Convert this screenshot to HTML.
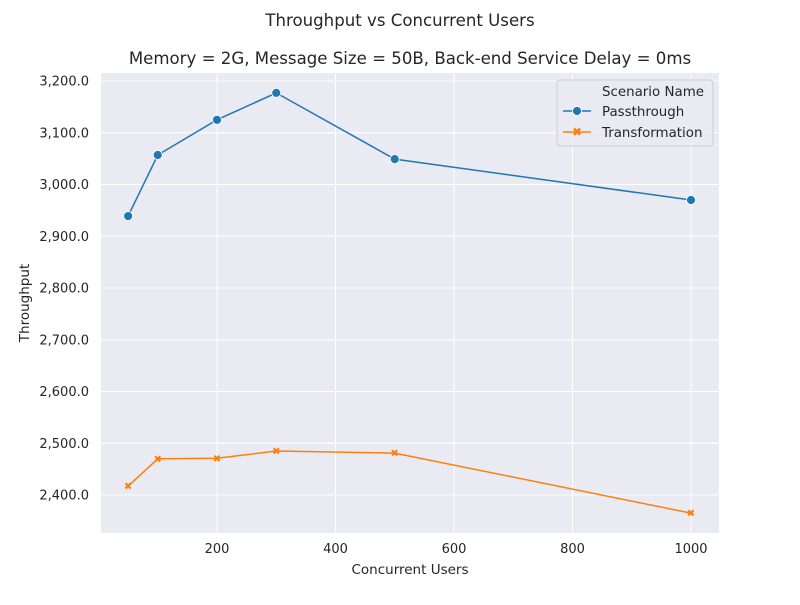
<!DOCTYPE html>
<html><head><meta charset="utf-8"><style>
body{margin:0;background:#fff;font-family:"Liberation Sans","DejaVu Sans",sans-serif;}
svg text{font-family:"DejaVu Sans","Liberation Sans",sans-serif;}
</style></head><body>
<svg id="chart" width="800" height="600" xmlns="http://www.w3.org/2000/svg">
<rect width="800" height="600" fill="#fff"/>
<text x="400" y="26" text-anchor="middle" font-size="16.6" fill="#262626">Throughput vs Concurrent Users</text>
<text x="410" y="64" text-anchor="middle" font-size="16.6" fill="#262626">Memory = 2G, Message Size = 50B, Back-end Service Delay = 0ms</text>
<rect x="101" y="73" width="618" height="460" fill="#eaeaf2"/>
<g id="grid"></g><g id="series"></g><g id="ticks"></g>
<text x="410" y="574" text-anchor="middle" font-size="13.5" fill="#262626">Concurrent Users</text>
<text transform="translate(29,303) rotate(-90)" text-anchor="middle" font-size="13.5" fill="#262626">Throughput</text>
<g>
<rect x="557" y="80" width="156" height="66" rx="3" fill="#eaeaf2" stroke="#ccc" opacity="0.9"/>
<text x="602" y="96" font-size="13.4" fill="#262626">Scenario Name</text>
<line x1="563" y1="111" x2="591" y2="111" stroke="#1f77b4" stroke-width="1.5"/>
<circle cx="577" cy="111" r="4.5" fill="#1f77b4" stroke="#fff" stroke-width="0.8"/>
<text x="602" y="116" font-size="13.4" fill="#262626">Passthrough</text>
<line x1="563" y1="132" x2="591" y2="132" stroke="#ff7f0e" stroke-width="1.5"/>
<text x="577" y="136" text-anchor="middle" font-size="12" font-weight="bold" fill="#ff7f0e">✖</text>
<text x="602" y="137" font-size="13.4" fill="#262626">Transformation</text>
</g>
</svg>
<script>
const users=[50,100,200,300,500,1000];
const passthrough=[2939,3057,3125,3177,3049,2970];
const transformation=[2417,2470,2471,2485,2481,2365];
const xTicks=[200,400,600,800,1000];
const yTicks=[2400,2500,2600,2700,2800,2900,3000,3100,3200];
const NS="http://www.w3.org/2000/svg";
const X=v=>98.5+v*118.5/200;
const Y=v=>81+(3200-v)*0.5175;
function mk(t,a,p){const e=document.createElementNS(NS,t);for(const k in a)e.setAttribute(k,a[k]);p.appendChild(e);return e;}
const g=document.getElementById('grid'),tk=document.getElementById('ticks'),s=document.getElementById('series');
xTicks.forEach(v=>{
 const l=mk('line',{x1:X(v),x2:X(v),y1:73,y2:533,stroke:'#fff','stroke-width':1},g);
 
 
 const t=mk('text',{x:X(v),y:553,'text-anchor':'middle','font-size':13,fill:'#262626'},tk);
 t.textContent=v;
 
 
});
yTicks.forEach(v=>{
 const l=mk('line',{x1:101,x2:719,y1:Y(v),y2:Y(v),stroke:'#fff','stroke-width':1},g);
 
 
 const t=mk('text',{x:89,y:Y(v)+4.5,'text-anchor':'end','font-size':13,fill:'#262626'},tk);
 t.textContent=v.toLocaleString('en-US')+'.0';
 
 
});
function line(vals,color,name){
 const p=mk('polyline',{points:users.map((u,i)=>X(u)+','+Y(vals[i])).join(' '),fill:'none',stroke:color,'stroke-width':1.5},s);
 
 
 users.forEach((u,i)=>{
  let m;
  if(name==='passthrough'){m=mk('circle',{cx:X(u),cy:Y(vals[i]),r:4.5,fill:color,stroke:'#fff','stroke-width':0.8},s);}
  else{m=mk('text',{x:X(u),y:Y(vals[i])+3.5,'text-anchor':'middle','font-size':10,'font-weight':'bold',fill:color},s);m.textContent='✖';}
  
  
 });
}
line(passthrough,'#1f77b4','passthrough');
line(transformation,'#ff7f0e','transformation');
</script>
</body></html>
